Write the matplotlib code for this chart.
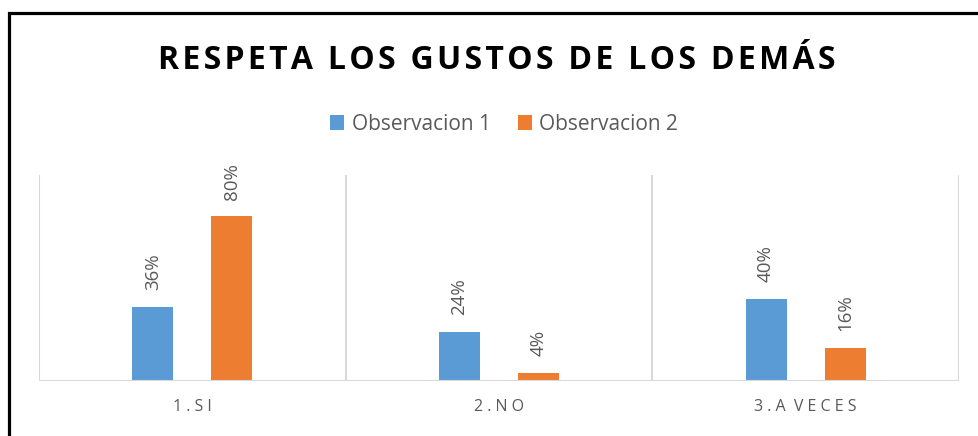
import matplotlib
matplotlib.use("Agg")
import matplotlib.pyplot as plt
import numpy as np
from matplotlib.patches import Rectangle

plt.rcParams['font.family'] = ['Open Sans', 'DejaVu Sans']

categories = ["1.SI", "2.NO", "3.A VECES"]
obs1 = [0.36, 0.24, 0.40]
obs2 = [0.80, 0.04, 0.16]
series_names = ["Observacion 1", "Observacion 2"]
title = "RESPETA LOS GUSTOS DE LOS DEMÁS"

blue = "#5B9BD5"
orange = "#ED7D31"
gray_txt = "#595959"
grid_c = "#D9D9D9"


def spaced(s, sp="\u200a"):
    return sp.join(s)


fig = plt.figure(figsize=(9.79, 4.36), dpi=100)
ax = fig.add_axes([39/979, 1-381/436, 920/979, 206/436])

x = np.arange(len(categories))
w = 0.134
off = 0.129
b1 = ax.bar(x - off, obs1, w, color=blue, label=series_names[0], zorder=3)
b2 = ax.bar(x + off, obs2, w, color=orange, label=series_names[1], zorder=3)

for bars, vals in ((b1, obs1), (b2, obs2)):
    for rect, v in zip(bars, vals):
        ax.annotate(f"{int(round(v*100))}%",
                    (rect.get_x() + rect.get_width()/2, rect.get_height()),
                    xytext=(0, 12), textcoords="offset points",
                    rotation=90, ha="center", va="bottom",
                    color=gray_txt, fontsize=13.5)

ax.set_xlim(-0.5, len(categories) - 0.5)
ax.set_ylim(0, 1.0)
for s in ax.spines.values():
    s.set_visible(False)
for b in np.arange(-0.5, len(categories), 1.0):
    ax.axvline(b, color=grid_c, lw=1.5, zorder=1)
ax.axhline(0, color=grid_c, lw=1.5, zorder=4)

ax.set_yticks([])
ax.set_xticks(x)
ax.set_xticklabels([spaced(c, " ").replace("   ", "  ") for c in categories],
                   color=gray_txt, fontsize=11.5)
ax.tick_params(axis="x", length=0, pad=13)

fig.text(497/979, 1-60/436, spaced(title, "\u200a"), ha="center", va="center",
         fontsize=23, fontweight="bold", color="black")

fig.legend(handles=[b1, b2], loc="center", bbox_to_anchor=(504/979, 1-124/436),
           ncol=2, frameon=False, fontsize=15, labelcolor=gray_txt,
           handlelength=0.7, handleheight=0.7, handletextpad=0.35,
           columnspacing=1.3)

fig.add_artist(Rectangle((9/979, -0.1), 1.2, 1 - 13/436 + 0.1,
                         transform=fig.transFigure, fill=False,
                         edgecolor="black", lw=2.3))

fig.savefig("out.png", dpi=100)
